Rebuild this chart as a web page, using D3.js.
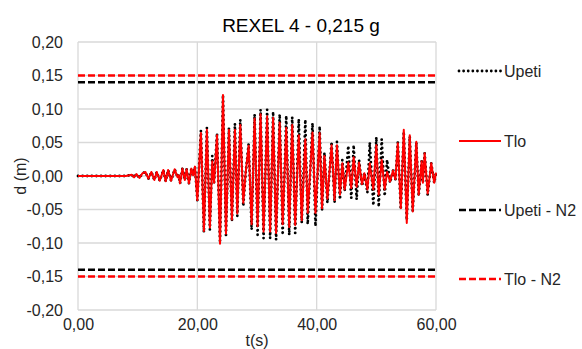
<!DOCTYPE html>
<html><head><meta charset="utf-8">
<script src="https://cdn.jsdelivr.net/npm/d3@7/dist/d3.min.js"></script>
<style>body{margin:0;background:#fff}svg{display:block;font-family:"Liberation Sans",Arial,sans-serif}</style>
</head><body><svg id="c" width="582" height="349"></svg>
<script>
const title = "REXEL 4 - 0,215 g";
const xTicks = [0, 20, 40, 60];
const yTicks = [-0.20, -0.15, -0.10, -0.05, 0, 0.05, 0.10, 0.15, 0.20];
const seriesNames = ["Upeti", "Tlo", "Upeti - N2", "Tlo - N2"];
// time of each read extreme (s)
const t = [0,8,9.0,9.4,9.8,10.3,10.8,11.3,11.8,12.3,12.8,13.2,13.7,14.3,14.7,15.1,15.6,16.2,16.7,16.9,17.1,17.5,17.9,18.2,18.6,19.0,19.3,19.6,20.0,
20.6,21.1,21.6,22.1,22.5,22.8,23.3,23.8,24.3,24.8,25.3,25.8,26.3,26.7,27.2,27.7,28.1,28.6,29.1,29.6,30.1,30.6,31.1,31.7,32.2,32.7,33.2,33.8,34.3,34.9,35.4,35.9,36.4,37.0,37.5,38.1,38.5,39.3,39.8,40.5,40.9,41.3,41.8,42.5,43.0,43.4,43.9,44.3,44.7,45.3,45.8,46.2,46.7,47.1,47.6,48.0,48.5,48.9,49.5,50.0,50.4,50.9,51.4,51.8,52.3,52.8,53.2,53.6,54.1,54.6,55.1,55.6,56.1,56.7,57.1,57.6,57.8,58.1,58.6,59.2,59.7,60];
const tlo = [0,0,0.002,-0.002,0.003,-0.003,0.004,0.006,-0.004,0.006,-0.006,0.006,-0.007,0.009,-0.008,0.009,-0.007,0.010,-0.002,0.001,-0.011,0.011,-0.006,0.010,-0.011,0.011,0.001,0.014,-0.036,
0.064,-0.082,0.069,-0.077,0.022,-0.010,0.061,-0.101,0.121,-0.086,0.069,-0.065,0.069,-0.056,0.076,-0.040,0.005,0.045,-0.072,0.086,-0.075,0.092,-0.083,0.089,-0.083,0.087,-0.085,0.080,-0.072,0.072,-0.076,0.076,-0.073,0.061,-0.066,0.055,-0.055,0.065,-0.055,0.064,-0.048,0.030,-0.034,0.046,-0.036,0.046,-0.028,0.019,-0.020,0.020,-0.018,0.028,-0.016,0.020,-0.012,0.004,-0.020,0.019,-0.020,0.046,-0.028,0.024,-0.020,0.006,-0.008,0.008,-0.005,0.049,-0.048,0.069,-0.070,0.061,-0.053,0.051,-0.028,0.022,-0.010,0.034,-0.026,0.019,-0.010,0.005];
const upeti = [0,0,0.002,-0.002,0.003,-0.003,0.004,0.006,-0.004,0.006,-0.006,0.006,-0.007,0.009,-0.008,0.009,-0.007,0.010,-0.002,0.001,-0.011,0.011,-0.006,0.010,-0.011,0.011,0.001,0.014,-0.036,
0.068,-0.084,0.072,-0.080,0.030,-0.010,0.064,-0.100,0.121,-0.088,0.072,-0.068,0.078,-0.060,0.084,-0.045,0.004,0.048,-0.080,0.092,-0.088,0.099,-0.093,0.099,-0.093,0.096,-0.095,0.092,-0.088,0.090,-0.088,0.088,-0.085,0.085,-0.070,0.084,-0.072,0.079,-0.075,0.074,-0.052,0.035,-0.040,0.051,-0.040,0.051,-0.035,0.024,-0.022,0.045,-0.033,0.046,-0.035,0.024,-0.015,0.005,-0.025,0.050,-0.044,0.058,-0.046,0.055,-0.030,0.024,-0.010,0.008,-0.005,0.050,-0.050,0.066,-0.066,0.059,-0.052,0.050,-0.030,0.022,-0.010,0.034,-0.028,0.019,-0.010,0.005];
const upetiN2 = 0.14;
const tloN2 = 0.15;

const svg = d3.select("#c");
const L = 78, R = 436, T = 42, B = 310;
const x = d3.scaleLinear().domain([0, 60]).range([L, R]);
const y = d3.scaleLinear().domain([-0.2, 0.2]).range([B, T]);
const fmt = v => d3.format(".2f")(v).replace(".", ",").replace("−", "-");

// grid
svg.append("g").selectAll("line").data(yTicks).join("line")
  .attr("x1", L).attr("x2", R).attr("y1", d => y(d)).attr("y2", d => y(d))
  .attr("stroke", "#d9d9d9").attr("stroke-width", 1.3);
svg.append("g").selectAll("line").data(xTicks).join("line")
  .attr("x1", d => x(d)).attr("x2", d => x(d)).attr("y1", T).attr("y2", B)
  .attr("stroke", "#d9d9d9").attr("stroke-width", 1.3);

// axes (labels only)
const yAxis = svg.append("g").attr("transform", `translate(${L},0)`)
  .call(d3.axisLeft(y).tickValues(yTicks).tickFormat(fmt).tickSize(0).tickPadding(15));
const xAxis = svg.append("g").attr("transform", `translate(0,${B})`)
  .call(d3.axisBottom(x).tickValues(xTicks).tickFormat(fmt).tickSize(0).tickPadding(9));
[yAxis, xAxis].forEach(a => {
  a.select(".domain").remove();
  a.selectAll("text").attr("font-size", 16).attr("fill", "#262626")
    .attr("font-family", "'Liberation Sans', Arial, sans-serif");
});

const pts = (vals) => t.map((d, i) => [d, vals[i]]);
const line = d3.line().x(d => x(d[0])).y(d => y(d[1]));

const DOT = "0.01,4.6";
// Upeti dotted
svg.append("path").datum(pts(upeti)).attr("d", line).attr("fill", "none")
  .attr("stroke", "#000").attr("stroke-width", 2.8).attr("stroke-linecap", "round")
  .attr("stroke-dasharray", DOT);
// Tlo red
svg.append("path").datum(pts(tlo)).attr("d", line).attr("fill", "none")
  .attr("stroke", "#ff0000").attr("stroke-width", 2).attr("stroke-linejoin", "round");

// N2 limits
const hl = (v, col) => svg.append("line").attr("x1", x(0)).attr("x2", x(60))
  .attr("y1", y(v)).attr("y2", y(v)).attr("stroke", col).attr("stroke-width", 2.6)
  .attr("stroke-dasharray", "7,3");
hl(upetiN2, "#000"); hl(-upetiN2, "#000");
hl(tloN2, "#ff0000"); hl(-tloN2, "#ff0000");

// title
svg.append("text").attr("x", 301).attr("y", 32).attr("text-anchor", "middle")
  .attr("font-size", 19).attr("fill", "#000").text(title);
// axis titles
svg.append("text").attr("x", (L + R) / 2).attr("y", 346).attr("text-anchor", "middle")
  .attr("font-size", 16).attr("fill", "#262626").text("t(s)");
svg.append("text").attr("transform", `translate(26,${(T + B) / 2}) rotate(-90)`)
  .attr("text-anchor", "middle").attr("font-size", 16).attr("fill", "#262626").text("d (m)");

// legend
const legY = [71, 141, 210, 279];
const legStyle = [
  {c: "#000", d: DOT, w: 2.8, cap: "round"},
  {c: "#ff0000", d: null, w: 2, cap: "butt"},
  {c: "#000", d: "7,3", w: 2.6, cap: "butt"},
  {c: "#ff0000", d: "7,3", w: 2.6, cap: "butt"}
];
seriesNames.forEach((n, i) => {
  const g = svg.append("g");
  const ln = g.append("line").attr("x1", 459).attr("x2", 501).attr("y1", legY[i]).attr("y2", legY[i])
    .attr("stroke", legStyle[i].c).attr("stroke-width", legStyle[i].w)
    .attr("stroke-linecap", legStyle[i].cap);
  if (legStyle[i].d) ln.attr("stroke-dasharray", legStyle[i].d);
  g.append("text").attr("x", 504).attr("y", legY[i] + 6).attr("font-size", 16)
    .attr("fill", "#262626").text(n);
});
</script></body></html>
